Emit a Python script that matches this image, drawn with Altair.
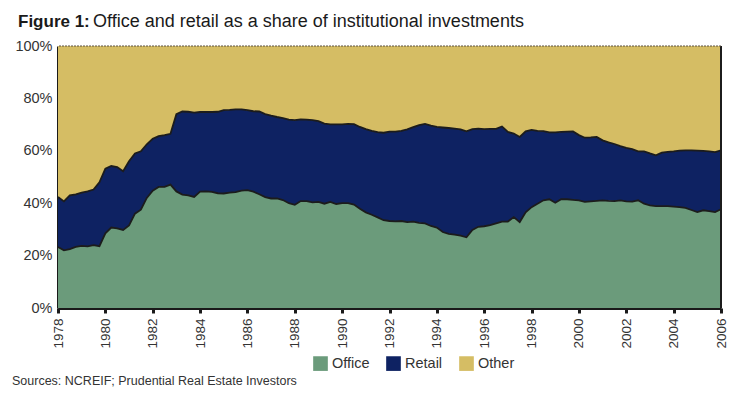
import altair as alt
import pandas as pd

# quarterly observations 1978Q1 .. 2006Q1, share of institutional investments (%)
office = [
    23.3, 22.0, 22.5, 23.3, 23.7, 23.5, 24.0, 23.6,   # 1978-1979
    28.5, 30.7, 30.4, 29.8, 31.5, 36.0, 37.5, 42.0,   # 1980-1981
    44.8, 46.2, 46.2, 47.1, 44.5, 43.3, 43.0, 42.4,   # 1982-1983
    44.4, 44.5, 44.3, 43.8, 43.7, 44.0, 44.2, 44.8,   # 1984-1985
    45.0, 44.4, 43.4, 42.3, 41.8, 41.8, 41.2, 40.0,   # 1986-1987
    39.4, 40.8, 40.8, 40.3, 40.5, 39.8, 40.5, 39.7,   # 1988-1989
    40.0, 40.0, 39.5, 37.9, 36.5, 35.6, 34.6, 33.5,   # 1990-1991
    33.2, 33.1, 33.2, 32.8, 33.0, 32.5, 32.3, 31.3,   # 1992-1993
    30.7, 29.0, 28.3, 28.0, 27.6, 27.0, 29.8, 31.0,   # 1994-1995
    31.2, 31.6, 32.3, 33.0, 33.0, 34.7, 32.8, 36.5,   # 1996-1997
    38.5, 39.8, 41.1, 41.5, 40.2, 41.5, 41.5, 41.3,   # 1998-1999
    41.1, 40.5, 40.7, 40.9, 41.1, 40.9, 40.8, 41.1,   # 2000-2001
    40.7, 40.6, 41.1, 39.8, 39.2, 38.9, 38.9, 38.9,   # 2002-2003
    38.7, 38.5, 38.2, 37.4, 36.6, 37.3, 37.0, 36.6,   # 2004-2005
    37.7,                                             # 2006
]
office_plus_retail = [
    42.4, 40.7, 43.0, 43.4, 44.0, 44.5, 45.2, 48.0,
    53.2, 54.2, 53.8, 52.2, 56.0, 59.0, 59.8, 62.5,
    64.6, 65.6, 66.0, 66.5, 74.0, 75.0, 74.9, 74.6,
    74.8, 74.8, 74.8, 74.9, 75.5, 75.6, 75.8, 75.8,
    75.5, 75.1, 75.0, 74.0, 73.4, 72.9, 72.5, 71.9,
    71.7, 72.0, 71.9, 71.7, 71.3, 70.4, 70.1, 70.1,
    70.1, 70.3, 70.2, 69.1, 68.3, 67.6, 67.1, 66.9,
    67.3, 67.3, 67.6, 68.2, 69.0, 69.8, 70.3, 69.6,
    69.1, 68.9, 68.7, 68.5, 68.2, 67.4, 68.3, 68.5,
    68.3, 68.4, 68.4, 69.3, 67.2, 66.6, 65.3, 67.4,
    68.0, 67.6, 67.5, 67.0, 67.0, 67.2, 67.3, 67.4,
    66.0, 65.0, 65.1, 65.3, 64.0, 63.2, 62.6, 61.8,
    61.1, 60.6, 59.8, 59.8, 59.0, 58.3, 59.3, 59.6,
    59.8, 60.1, 60.2, 60.2, 60.1, 60.0, 59.8, 59.5,
    60.2,
]
quarters = [1978 + q / 4 for q in range(len(office))]

series_names = ["Office", "Retail", "Other"]
series_colors = ["#6b9b7b", "#0e2262", "#d5bd64"]
year_ticks = list(range(1978, 2007))
pct_ticks = [0, 20, 40, 60, 80, 100]

title_bold = "Figure 1:"
title_rest = "Office and retail as a share of institutional investments"
source_text = "Sources: NCREIF; Prudential Real Estate Investors"

rows = []
for t, o, c in zip(quarters, office, office_plus_retail):
    rows.append({"t": t, "series": "Office", "lo": 0.0, "hi": o})
    rows.append({"t": t, "series": "Retail", "lo": o, "hi": c})
    rows.append({"t": t, "series": "Other", "lo": c, "hi": 100.0})
area_df = pd.DataFrame(rows)

line_rows = []
for t, o, c in zip(quarters, office, office_plus_retail):
    line_rows.append({"t": t, "edge": "office", "v": o})
    line_rows.append({"t": t, "edge": "retail", "v": c})
line_df = pd.DataFrame(line_rows)

FONT = "Liberation Sans"

xscale = alt.Scale(domain=[1978, 2006], nice=False, zero=False)
yscale = alt.Scale(domain=[0, 100], nice=False)

xaxis = alt.Axis(
    values=year_ticks, format="d",
    labelExpr="datum.value % 2 === 0 ? datum.label : ''",
    labelAngle=270, labelAlign="right", labelBaseline="middle",
    labelFont=FONT, labelFontSize=13.5, labelColor="#333333", labelPadding=5,
    labelOverlap=False, labelFlush=False,
    ticks=True, tickSize=5, tickWidth=3, tickColor="#1a1a1a",
    domainColor="#1a1a1a", domainWidth=3, grid=False, title=None,
)
yaxis = alt.Axis(
    values=pct_ticks, labelExpr="datum.value + '%'",
    labelFont=FONT, labelFontSize=14.5, labelColor="#333333", labelPadding=6,
    ticks=False, domainColor="#1a1a1a", domainWidth=3, grid=False, title=None,
)

areas = alt.Chart(area_df).mark_area(interpolate="linear", strokeWidth=0).encode(
    x=alt.X("t:Q", scale=xscale, axis=xaxis),
    y=alt.Y("lo:Q", scale=yscale, axis=yaxis, stack=None),
    y2="hi:Q",
    color=alt.Color(
        "series:N",
        scale=alt.Scale(domain=series_names, range=series_colors),
        legend=alt.Legend(
            title=None, orient="none", direction="horizontal",
            legendX=255, legendY=310, padding=0,
            symbolType="square", symbolSize=215, symbolStrokeWidth=0,
            symbolOpacity=1,
            labelFont=FONT, labelFontSize=14.5, labelColor="#333333",
            labelOffset=4, columnPadding=16,
        ),
    ),
    order=alt.Order("series:N"),
)

edges = alt.Chart(line_df).mark_line(
    color="#1c1c1c", strokeWidth=1.8, interpolate="linear"
).encode(
    x=alt.X("t:Q", scale=xscale),
    y=alt.Y("v:Q", scale=yscale),
    detail="edge:N",
)

right_edge = alt.Chart(pd.DataFrame({"a": [0]})).mark_rule(
    color="#1c1c1c", strokeWidth=2
).encode(x=alt.datum(2006, scale=xscale))

top_edge = alt.Chart(pd.DataFrame({"a": [0]})).mark_rule(
    color="#5a5040", strokeWidth=1, strokeDash=[2, 1]
).encode(y=alt.datum(100, scale=yscale))

t1 = alt.Chart(pd.DataFrame({"s": [title_bold]})).mark_text(
    align="left", baseline="alphabetic", font=FONT, fontSize=17,
    fontWeight="bold", color="#1a1a1a",
).encode(text="s:N", x=alt.value(-40), y=alt.value(-19))

t2 = alt.Chart(pd.DataFrame({"s": [title_rest]})).mark_text(
    align="left", baseline="alphabetic", font=FONT, fontSize=18,
    color="#1a1a1a",
).encode(text="s:N", x=alt.value(35), y=alt.value(-19))

src = alt.Chart(pd.DataFrame({"s": [source_text]})).mark_text(
    align="left", baseline="middle", font=FONT, fontSize=12.5,
    color="#333333",
).encode(text="s:N", x=alt.value(-46), y=alt.value(335))

chart = alt.layer(areas, edges, right_edge, top_edge, t1, t2, src).properties(
    width=663, height=262,
    autosize=alt.AutoSizeParams(type="none"),
    padding={"left": 50, "top": 38, "right": 17, "bottom": 85},
).configure_view(stroke=None).configure(background="white")

chart.save("out.html", embed_options={"renderer": "svg", "actions": False})
